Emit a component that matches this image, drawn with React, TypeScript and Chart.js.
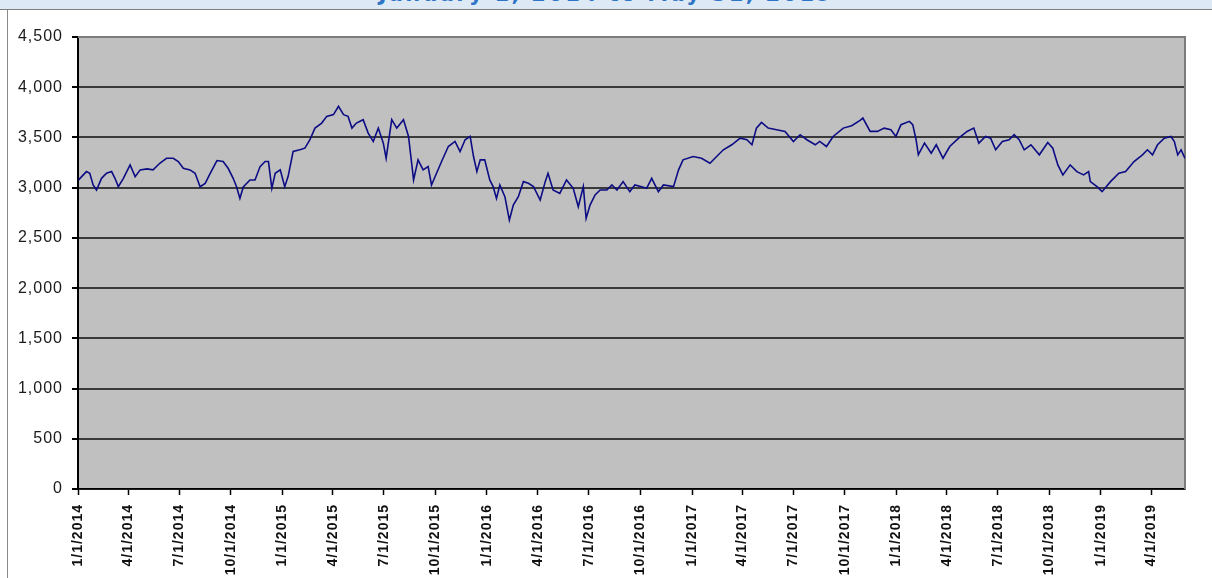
import React, { useEffect, useRef } from "react";
import { Chart, registerables } from "chart.js";

Chart.register(...registerables);

const TITLE = "January 1, 2014 to May 31, 2019";
const START_DATE = "2014-01-01";
const END_DATE = "2019-05-31";

const dates: string[] = [
  "2014-01-02","2014-01-16","2014-01-22","2014-01-28","2014-02-03","2014-02-12","2014-02-21","2014-03-02","2014-03-08","2014-03-14",
  "2014-03-23","2014-04-04","2014-04-13","2014-04-22","2014-05-04","2014-05-15","2014-05-27","2014-06-08","2014-06-20","2014-06-29",
  "2014-07-08","2014-07-20","2014-07-29","2014-08-07","2014-08-16","2014-08-25","2014-09-06","2014-09-17","2014-09-26","2014-10-05",
  "2014-10-11","2014-10-17","2014-10-23","2014-11-04","2014-11-13","2014-11-22","2014-12-01","2014-12-07","2014-12-13","2014-12-19",
  "2014-12-28","2015-01-05","2015-01-11","2015-01-20","2015-02-01","2015-02-10","2015-02-19","2015-02-28","2015-03-12","2015-03-21",
  "2015-04-02","2015-04-11","2015-04-20","2015-04-28","2015-05-05","2015-05-13","2015-05-25","2015-06-03","2015-06-12","2015-06-21",
  "2015-06-30","2015-07-05","2015-07-15","2015-07-24","2015-08-05","2015-08-14","2015-08-23","2015-08-31","2015-09-09","2015-09-18",
  "2015-09-24","2015-10-03","2015-10-12","2015-10-24","2015-11-05","2015-11-14","2015-11-23","2015-12-02","2015-12-08","2015-12-14",
  "2015-12-20","2015-12-28","2016-01-06","2016-01-12","2016-01-18","2016-01-24","2016-02-02","2016-02-10","2016-02-17","2016-02-26",
  "2016-03-06","2016-03-15","2016-03-24","2016-04-05","2016-04-14","2016-04-19","2016-04-28","2016-05-10","2016-05-22","2016-06-03",
  "2016-06-12","2016-06-21","2016-06-26","2016-07-03","2016-07-12","2016-07-21","2016-08-02","2016-08-11","2016-08-20","2016-08-31",
  "2016-09-12","2016-09-21","2016-10-03","2016-10-12","2016-10-21","2016-11-02","2016-11-11","2016-11-29","2016-12-08","2016-12-16",
  "2017-01-03","2017-01-18","2017-02-02","2017-02-14","2017-02-26","2017-03-13","2017-03-28","2017-04-09","2017-04-18","2017-04-26",
  "2017-05-05","2017-05-17","2017-06-01","2017-06-16","2017-07-01","2017-07-13","2017-07-25","2017-08-09","2017-08-17","2017-08-29",
  "2017-09-10","2017-09-28","2017-10-13","2017-10-28","2017-11-02","2017-11-15","2017-11-28","2017-12-10","2017-12-22","2017-12-31",
  "2018-01-09","2018-01-24","2018-01-30","2018-02-05","2018-02-09","2018-02-20","2018-03-04","2018-03-13","2018-03-25","2018-04-06",
  "2018-04-22","2018-05-07","2018-05-19","2018-05-28","2018-06-09","2018-06-18","2018-06-27","2018-07-09","2018-07-21","2018-07-30",
  "2018-08-08","2018-08-17","2018-08-29","2018-09-13","2018-09-28","2018-10-07","2018-10-16","2018-10-25","2018-11-07","2018-11-19",
  "2018-12-01","2018-12-10","2018-12-13","2018-12-25","2019-01-03","2019-01-18","2019-02-02","2019-02-14","2019-03-01","2019-03-16",
  "2019-03-25","2019-04-03","2019-04-12","2019-04-24","2019-05-06","2019-05-12","2019-05-18","2019-05-24","2019-05-31"
];

const values: number[] = [
  3077,3160,3143,3027,2977,3093,3143,3160,3093,3010,
  3093,3227,3110,3177,3187,3177,3243,3293,3293,3260,
  3193,3177,3143,3010,3043,3143,3270,3260,3193,3093,
  3010,2893,3007,3077,3077,3210,3260,3260,2993,3143,
  3177,3010,3110,3360,3377,3393,3477,3593,3643,3710,
  3727,3810,3727,3710,3593,3643,3677,3543,3460,3593,
  3443,3293,3677,3593,3677,3510,3077,3277,3177,3210,
  3027,3143,3260,3410,3460,3360,3477,3510,3310,3160,
  3277,3277,3077,3010,2893,3027,2910,2677,2827,2910,
  3060,3043,3010,2877,3060,3143,2977,2943,3077,2993,
  2810,3010,2693,2827,2927,2977,2977,3027,2977,3060,
  2960,3027,3010,2993,3093,2960,3027,3010,3177,3277,
  3310,3293,3243,3310,3377,3427,3493,3477,3427,3593,
  3650,3593,3577,3560,3460,3527,3477,3427,3460,3410,
  3510,3593,3617,3670,3693,3560,3560,3593,3577,3510,
  3627,3660,3627,3477,3327,3443,3343,3427,3293,3410,
  3493,3560,3593,3443,3510,3493,3377,3460,3477,3527,
  3477,3377,3427,3327,3450,3393,3227,3127,3227,3160,
  3127,3160,3060,3010,2960,3060,3143,3160,3260,3327,
  3377,3327,3427,3493,3510,3460,3327,3377,3290
];

const xTickLabels: string[] = [
  "1/1/2014","4/1/2014","7/1/2014","10/1/2014",
  "1/1/2015","4/1/2015","7/1/2015","10/1/2015",
  "1/1/2016","4/1/2016","7/1/2016","10/1/2016",
  "1/1/2017","4/1/2017","7/1/2017","10/1/2017",
  "1/1/2018","4/1/2018","7/1/2018","10/1/2018",
  "1/1/2019","4/1/2019"
];

const Y_MIN = 0;
const Y_MAX = 4500;
const Y_STEP = 500;

const DAY = 86400000;
function toUTC(s: string): number {
  if (s.includes("/")) {
    const [m, d, y] = s.split("/").map(Number);
    return Date.UTC(y, m - 1, d);
  }
  const [y, m, d] = s.split("-").map(Number);
  return Date.UTC(y, m - 1, d);
}
const T0 = toUTC(START_DATE);
const dayOf = (s: string) => Math.round((toUTC(s) - T0) / DAY);

const FONT = "'Liberation Sans', Arial, sans-serif";

const plotPlugin = {
  id: "plotBg",
  beforeDraw(chart: any) {
    const { ctx, chartArea: a } = chart;
    ctx.save();
    ctx.fillStyle = "#ffffff";
    ctx.fillRect(0, 0, chart.width, chart.height);
    ctx.fillStyle = "#c0c0c0";
    ctx.fillRect(a.left, a.top, a.right - a.left, a.bottom - a.top);
    ctx.restore();
    try {
      (ctx as any).letterSpacing = "1px";
    } catch (e) {
      /* ignore */
    }
  },
  beforeDatasetsDraw(chart: any) {
    const { ctx, chartArea: a } = chart;
    ctx.save();
    ctx.strokeStyle = "#7c7c7c";
    ctx.lineWidth = 2;
    ctx.beginPath();
    ctx.moveTo(a.left, a.top);
    ctx.lineTo(a.right, a.top);
    ctx.lineTo(a.right, a.bottom);
    ctx.stroke();
    ctx.restore();
  },
};

function ChartView() {
  const ref = useRef<HTMLCanvasElement | null>(null);
  useEffect(() => {
    if (!ref.current) return;
    const points = dates.map((d, i) => ({ x: dayOf(d), y: values[i] }));
    const tickDays = xTickLabels.map(dayOf);
    const labelByDay = new Map<number, string>();
    tickDays.forEach((d, i) => labelByDay.set(d, xTickLabels[i]));
    const chart = new Chart(ref.current, {
      type: "line",
      data: {
        datasets: [
          {
            label: "Index",
            data: points,
            borderColor: "#0c0c84",
            borderWidth: 1.6,
            pointRadius: 0,
            tension: 0,
            fill: false,
          },
        ],
      },
      options: {
        animation: false,
        responsive: false,
        devicePixelRatio: 1,
        layout: { padding: { top: 27, right: 27, left: 0, bottom: 0 } },
        plugins: {
          legend: { display: false },
          tooltip: { enabled: false },
          title: { display: false },
        },
        scales: {
          x: {
            type: "linear",
            min: 0,
            max: dayOf(END_DATE),
            afterBuildTicks: (scale: any) => {
              scale.ticks = tickDays.map((v) => ({ value: v }));
            },
            afterFit: (scale: any) => {
              scale.height = 89;
            },
            grid: {
              drawOnChartArea: false,
              drawTicks: true,
              tickLength: 6,
              tickColor: "#000000",
              tickWidth: 1.5,
            },
            border: { display: true, color: "#000000", width: 1.5 },
            ticks: {
              autoSkip: false,
              minRotation: 90,
              maxRotation: 90,
              padding: 9,
              color: "#111111",
              font: { family: FONT, size: 14, weight: "bold" },
              callback: (v: any) => labelByDay.get(Number(v)) ?? "",
            },
          },
          y: {
            min: Y_MIN,
            max: Y_MAX,
            afterFit: (scale: any) => {
              scale.width = 78;
            },
            grid: {
              drawTicks: true,
              tickLength: 6,
              tickColor: "#000000",
              lineWidth: 2,
              color: (c: any) => (c.tick && c.tick.value === Y_MAX ? "#7c7c7c" : "#3a3a3a"),
            },
            border: { display: true, color: "#000000", width: 2 },
            ticks: {
              stepSize: Y_STEP,
              padding: 9,
              color: "#1a1a1a",
              font: { family: FONT, size: 16 },
              callback: (v: any) => Number(v).toLocaleString("en-US"),
            },
          },
        },
      },
      plugins: [plotPlugin],
    });
    return () => chart.destroy();
  }, []);
  return (
    <canvas
      ref={ref}
      width={1212}
      height={568}
      style={{ position: "absolute", top: 10, left: 0, width: 1212, height: 568 }}
    />
  );
}

export default function App() {
  return (
    <div
      style={{
        position: "fixed",
        top: 0,
        left: 0,
        width: 1212,
        height: 578,
        overflow: "hidden",
        background: "#ffffff",
      }}
    >
      <ChartView />
      <div
        style={{
          position: "absolute",
          top: 0,
          left: 0,
          width: 1212,
          height: 9,
          background: "#dde9f4",
          borderBottom: "1px solid #7f7f7f",
          overflow: "hidden",
        }}
      >
        <span
          style={{
            position: "absolute",
            left: 0,
            width: 1212,
            top: -16,
            textAlign: "center",
            lineHeight: "21px",
            fontFamily: "'DejaVu Sans', Verdana, sans-serif",
            fontWeight: "bold",
            fontSize: 21,
            letterSpacing: 2.3,
            color: "#2e75c8",
            whiteSpace: "nowrap",
          }}
        >
          {TITLE}
        </span>
      </div>
      <div
        style={{
          position: "absolute",
          top: 10,
          left: 7,
          width: 1,
          bottom: 0,
          background: "#8a8a8a",
        }}
      />
    </div>
  );
}
